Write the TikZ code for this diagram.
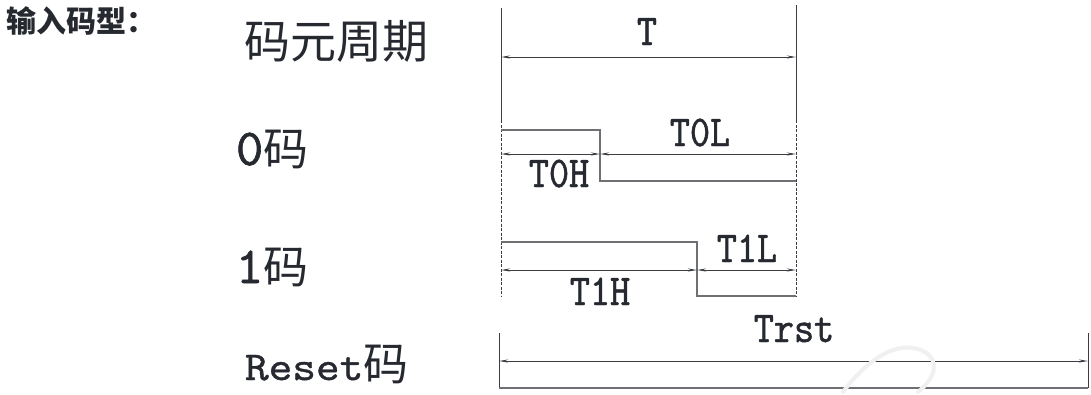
\documentclass[tikz,border=0pt]{standalone}
\usepackage{fontspec}
\usetikzlibrary{arrows.meta}
\newfontfamily\cjk{Noto Sans CJK SC}
\newfontfamily\monoA[FakeStretch=1.1,FakeBold=1.0]{lmmono10-regular.otf}
\newfontfamily\monoD[FakeBold=1.2]{lmmono10-regular.otf}
\newfontfamily\monoB[FakeStretch=0.87,FakeBold=1.0]{lmmono10-regular.otf}
\definecolor{ink}{HTML}{262A30}
\definecolor{wave}{HTML}{6E7074}
\definecolor{guide}{HTML}{3A3D42}
\begin{document}
\begin{tikzpicture}[x=1pt,y=-1pt,
  every node/.style={inner sep=0pt,outer sep=0pt,text=ink},
  biglabel/.style={anchor=base west,font=\fontsize{45}{45}\selectfont},
  dimlabel/.style={anchor=base,font=\monoB\fontsize{44}{44}\selectfont},
  guideline/.style={draw=guide,line width=0.9pt},
  guidedash/.style={draw=guide,line width=0.9pt,dash pattern=on 3pt off 1.5pt},
  waveline/.style={draw=wave,line width=1.3pt},
  dimline/.style={draw=guide,line width=1pt,{Stealth[length=9pt,width=3pt]}-{Stealth[length=9pt,width=3pt]}},
  watermark/.style={draw=black!6,line width=4pt,line cap=round}]
\useasboundingbox (0,0) rectangle (1091,394);
\fill[white] (0,0) rectangle (1091,394);

% left labels
\node[anchor=base west,font=\cjk\bfseries\fontsize{30}{30}\selectfont] (title) at (6,32) {输入码型：};
\node[biglabel] (lper) at (244,58) {\cjk\fontsize{46}{46}\selectfont 码元周期};
\node[biglabel] (lzero) at (236,165) {{\monoD\fontsize{52}{52}\selectfont 0}{\cjk 码}};
\node[biglabel] (lone) at (236,283) {{\monoD\fontsize{52}{52}\selectfont 1}{\cjk 码}};
\node[biglabel] (lrst) at (245,380) {{\monoA\fontsize{41}{41}\selectfont Reset}{\cjk 码}};

% guide coordinates
\coordinate (Lt) at (501,8);
\coordinate (Lm) at (501,120);
\coordinate (Lb) at (501,297);
\coordinate (Rt) at (796,5);
\coordinate (Rm) at (796,120);
\coordinate (Rb) at (796,297);
\draw[guideline] (Lt) -- (Lm);
\draw[guidedash] (Lm) -- (Lb);
\draw[guideline] (Rt) -- (Rm);
\draw[guidedash] (Rm) -- (Rb);

% T
\coordinate (Ta) at (501,57);
\coordinate (Tb) at (796,57);
\draw[dimline] (Ta) -- (Tb);
\node[dimlabel] (tT) at (647,45) {T};

% 0 code
\coordinate (z1) at (501,130);
\coordinate (z2) at (600,130);
\coordinate (z3) at (600,181);
\coordinate (z4) at (796,181);
\draw[waveline] (z1) -- (z2) -- (z3) -- (z4);
\coordinate (za) at (501,154);
\coordinate (zb) at (600,154);
\coordinate (zc) at (796,154);
\draw[dimline] (za) -- (zb);
\draw[dimline] (zb) -- (zc);
\node[dimlabel] (t0h) at (559,187) {T0H};
\node[dimlabel] (t0l) at (700,146) {T0L};

% 1 code
\coordinate (o1) at (501,242);
\coordinate (o2) at (697,242);
\coordinate (o3) at (697,296);
\coordinate (o4) at (796,296);
\draw[waveline] (o1) -- (o2) -- (o3) -- (o4);
\coordinate (oa) at (501,270);
\coordinate (ob) at (697,270);
\coordinate (oc) at (796,270);
\draw[dimline] (oa) -- (ob);
\draw[dimline] (ob) -- (oc);
\node[dimlabel] (t1h) at (600,305) {T1H};
\node[dimlabel] (t1l) at (747,262) {T1L};

% reset
\coordinate (r1t) at (499,333);
\coordinate (r1b) at (499,388);
\coordinate (r2t) at (1088,333);
\coordinate (r2b) at (1088,388);
\coordinate (ra) at (499,361);
\coordinate (rb) at (1088,361);
\draw[guideline] (r1t) -- (r1b);
\draw[guideline] (r2t) -- (r2b);
\draw[dimline] (ra) -- (rb);
\draw[waveline] (r1b) -- (r2b);
\node[dimlabel] (trst) at (794,342) {Trst};

% faint watermark
\draw[watermark] (843,392) .. controls (868,358) and (900,338) .. (925,352) .. controls (940,362) and (935,378) .. (918,392);
\end{tikzpicture}
\end{document}
